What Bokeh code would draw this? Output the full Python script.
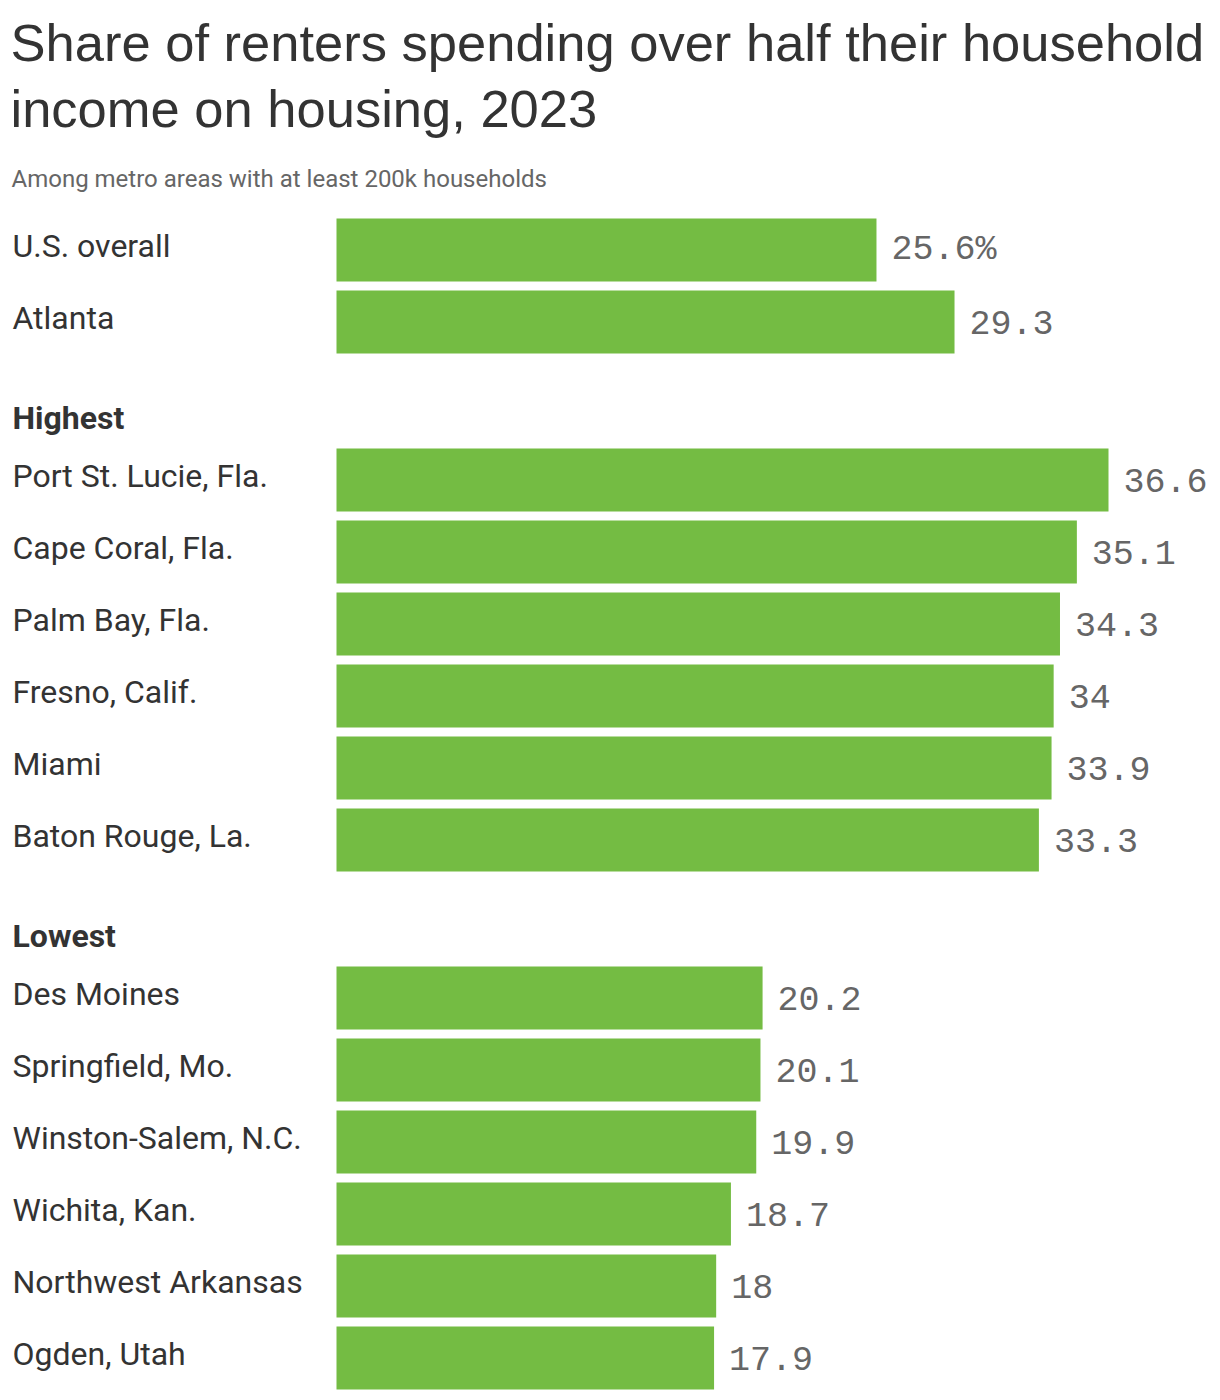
from bokeh.plotting import figure
from bokeh.models import Range1d, ColumnDataSource
from bokeh.core.properties import value
from bokeh.embed import file_html
from bokeh.resources import INLINE

# ---- data ----
top_names = ["U.S. overall", "Atlanta"]
top_values = [25.6, 29.3]
top_labels = ["25.6%", "29.3"]

high_names = ["Port St. Lucie, Fla.", "Cape Coral, Fla.", "Palm Bay, Fla.",
              "Fresno, Calif.", "Miami", "Baton Rouge, La."]
high_values = [36.6, 35.1, 34.3, 34.0, 33.9, 33.3]
high_labels = ["36.6", "35.1", "34.3", "34", "33.9", "33.3"]

low_names = ["Des Moines", "Springfield, Mo.", "Winston-Salem, N.C.",
             "Wichita, Kan.", "Northwest Arkansas", "Ogden, Utah"]
low_values = [20.2, 20.1, 19.9, 18.7, 18.0, 17.9]
low_labels = ["20.2", "20.1", "19.9", "18.7", "18", "17.9"]

section_titles = ["Highest", "Lowest"]

TITLE_1 = "Share of renters spending over half their household"
TITLE_2 = "income on housing, 2023"
SUBTITLE = "Among metro areas with at least 200k households"

# ---- layout ----
W, H = 1220, 1400
BAR_X0 = 336          # px where value 0 sits
SCALE = 21.093        # px per percentage point
PITCH = 72
BAR_H = 63

def dx(px):
    return (px - BAR_X0) / SCALE

groups = [
    (top_names, top_values, top_labels, 249.5),
    (high_names, high_values, high_labels, 479.5),
    (low_names, low_values, low_labels, 997.5),
]
names, vals, labs, ys = [], [], [], []
for n, v, l, y0 in groups:
    for i in range(len(n)):
        names.append(n[i]); vals.append(v[i]); labs.append(l[i]); ys.append(y0 + i * PITCH)

src = ColumnDataSource(dict(name=names, val=vals, lab=labs, y=ys,
                            x0=[0] * len(vals), lx=[dx(12)] * len(vals)))

p = figure(width=W, height=H, output_backend="svg", toolbar_location=None,
           x_range=Range1d(dx(0), dx(W)), y_range=Range1d(H, 0),
           min_border=0, background_fill_color="white", border_fill_color="white")
p.axis.visible = False
p.grid.visible = False
p.outline_line_color = None

p.hbar(y="y", left="x0", right="val", height=BAR_H, source=src,
       fill_color="#74bc43", line_color=None)

p.text(x="lx", y="y", text="name", source=src, y_offset=-4, text_font=value("Roboto"),
       text_font_size="32px", text_color="#333333", text_baseline="middle",
       text_align="left")

p.text(x="val", y="y", text="lab", source=src, x_offset=15, y_offset=0,
       text_font=value("Liberation Mono"), text_font_size="35px",
       text_color="#666666", text_baseline="middle", text_align="left")

p.text(x=[dx(12), dx(12)], y=[419, 937], text=section_titles, y_offset=-2,
       text_font=value("Roboto"), text_font_size="32px", text_font_style="bold",
       text_color="#333333", text_baseline="middle", text_align="left")

p.text(x=[dx(10), dx(10)], y=[42, 108], text=[TITLE_1, TITLE_2],
       text_font=value("Liberation Sans"), text_font_size="52.5px",
       text_color="#333333", text_baseline="alphabetic", text_align="left")

p.text(x=[dx(11)], y=[178], text=[SUBTITLE],
       text_font=value("Roboto"), text_font_size="24px",
       text_color="#666666", text_baseline="alphabetic", text_align="left")

open("out.html", "w").write(file_html(p, INLINE))
